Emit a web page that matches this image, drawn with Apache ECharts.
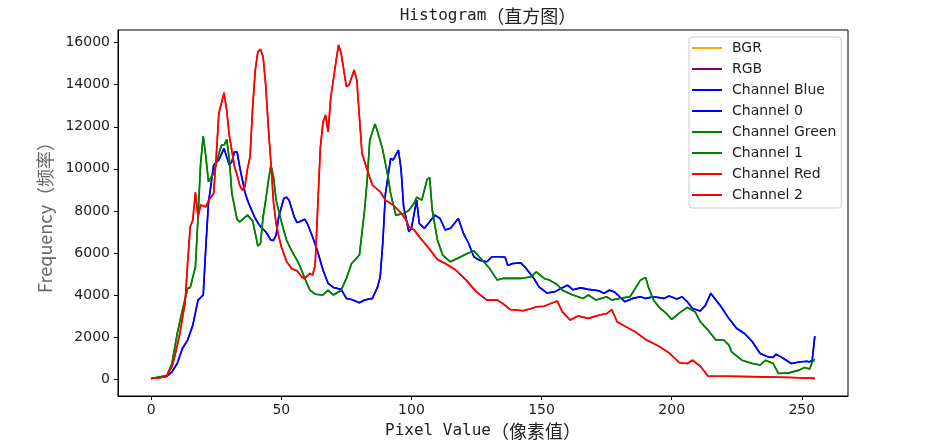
<!DOCTYPE html>
<html><head><meta charset="utf-8">
<script src="https://cdn.jsdelivr.net/npm/echarts@6/dist/echarts.min.js"></script>
<style>html,body{margin:0;padding:0;background:#fff}#c{width:941px;height:447px}</style>
</head><body><div id="c"></div>
<script>
// Tick labels
const xTicks = [0, 50, 100, 150, 200, 250];
const yTicks = [0, 2000, 4000, 6000, 8000, 10000, 12000, 14000, 16000];

// Legend entries (in plotting order)
const seriesNames = ['BGR', 'RGB', 'Channel Blue', 'Channel 0', 'Channel Green', 'Channel 1', 'Channel Red', 'Channel 2'];
const seriesColors = ['#ffa500', '#800080', '#0000ff', '#0000ff', '#008000', '#008000', '#ff0000', '#ff0000'];

// Data: [pixel value, frequency]
const bgrValues = [];
const rgbValues = [];
const blueValues = [[0,30],[6,130],[8,350],[10,745],[12,1460],[14,1860],[16,2570],[18,3760],[20,4000],[21,6290],[22,8360],[24,10180],[26,10420],[28,10970],[29,10580],[30,10180],[31,10340],[32,10810],[33,10800],[34,10100],[36,8900],[37,8510],[38,8200],[40,7640],[42,7250],[44,7010],[46,6610],[47,6600],[48,6850],[49,7720],[51,8600],[52,8650],[53,8510],[55,7700],[56,7450],[57,7480],[59,7600],[60,7400],[62,6770],[64,6060],[66,5190],[68,4550],[70,4360],[73,4270],[75,3840],[77,3790],[80,3630],[82,3760],[85,3840],[87,4390],[88,4870],[89,6500],[90,8800],[92,10500],[93,10420],[95,10890],[96,10000],[97,8200],[99,7010],[100,7170],[102,8510],[103,7400],[105,7170],[107,7480],[109,7800],[111,7640],[113,7090],[115,7170],[118,7640],[120,6930],[122,6450],[124,5820],[126,5660],[129,5580],[131,5820],[134,5820],[136,5800],[137,5420],[139,5500],[142,5530],[144,5270],[147,4800],[149,4390],[152,4100],[155,4150],[158,4350],[160,4470],[162,4250],[165,4340],[168,4270],[172,4200],[174,4080],[176,4230],[178,4150],[180,3920],[182,3680],[185,3840],[188,3920],[190,3840],[193,3920],[197,3840],[199,3950],[202,3810],[204,3920],[206,3680],[208,3360],[211,3240],[213,3520],[215,4080],[217,3760],[219,3440],[222,2880],[225,2410],[228,2170],[231,1780],[234,1220],[237,1060],[239,1030],[240,1190],[242,1060],[244,900],[246,745],[249,820],[252,850],[253,820],[254,900],[255,2050]];
const greenValues = [[0,30],[6,170],[8,745],[10,2170],[12,3280],[14,4310],[15,4360],[17,5340],[18,7720],[19,10260],[20,11560],[21,10580],[22,9390],[24,9780],[25,10260],[27,11130],[28,11130],[29,11400],[30,10500],[31,8830],[33,7600],[34,7480],[37,7800],[39,7520],[41,6330],[42,6450],[43,7720],[44,8500],[45,9400],[46,10180],[47,9620],[48,8510],[50,7500],[52,6610],[54,6100],[56,5660],[57,5420],[59,4800],[61,4230],[63,4040],[66,4000],[68,4230],[70,4000],[73,4230],[75,4790],[77,5500],[80,5900],[82,8040],[83,9470],[84,11370],[86,12130],[87,11760],[89,10890],[91,9620],[92,8830],[94,7800],[97,7880],[99,8020],[101,8360],[102,8650],[104,8510],[106,9500],[107,9580],[108,8040],[110,6610],[112,5900],[115,5580],[119,5820],[121,5950],[124,6100],[126,5820],[130,5270],[133,4710],[135,4790],[139,4790],[142,4790],[146,4870],[148,5100],[151,4790],[153,4710],[156,4500],[158,4230],[162,4000],[166,3840],[168,4000],[171,3760],[175,3920],[177,3760],[180,3840],[184,3920],[186,4310],[188,4710],[190,4840],[191,4390],[193,3760],[195,3440],[198,3120],[200,2840],[203,3150],[206,3410],[209,3200],[211,2730],[214,2330],[217,1860],[220,1860],[222,1620],[223,1300],[227,900],[231,745],[234,670],[236,900],[239,745],[241,270],[245,300],[249,430],[251,560],[253,480],[254,820],[255,940]];
const redValues = [[0,30],[4,80],[6,175],[8,600],[9,1060],[10,1600],[11,2170],[12,2900],[13,3600],[14,5500],[15,7250],[16,7560],[17,8880],[18,7720],[19,8280],[21,8200],[22,8480],[24,8830],[25,10580],[26,12640],[28,13620],[29,12800],[30,11600],[32,10100],[33,9700],[34,9230],[35,8990],[36,9150],[37,10000],[38,10580],[39,12950],[40,14700],[41,15570],[42,15680],[43,15330],[44,14000],[45,12000],[46,10300],[47,8400],[48,7400],[49,6800],[50,6300],[52,5600],[54,5250],[56,5150],[58,4850],[59,4790],[61,5030],[62,4950],[63,5400],[64,8200],[65,11000],[66,12200],[67,12560],[68,11760],[69,13400],[71,15100],[72,15890],[73,15490],[75,13910],[76,13990],[78,14700],[79,14220],[80,12500],[81,10740],[83,9940],[85,9230],[88,8910],[90,8510],[93,8280],[96,7900],[98,7560],[99,7250],[101,7100],[103,6770],[107,6180],[110,5690],[113,5500],[117,5190],[121,4710],[125,4150],[129,3760],[133,3760],[135,3600],[138,3310],[143,3250],[146,3360],[148,3440],[151,3470],[152,3520],[156,3720],[158,3200],[161,2810],[164,3000],[168,2890],[172,3040],[175,3120],[177,3310],[179,2730],[182,2520],[186,2250],[190,1890],[195,1570],[199,1250],[203,780],[206,745],[208,900],[211,620],[214,140],[222,140],[235,110],[246,80],[255,40]];

const seriesData = [bgrValues, rgbValues, blueValues, blueValues, greenValues, greenValues, redValues, redValues];

const monoCjkRich = {
  a: { fontFamily: 'DejaVu Sans Mono', fontSize: 16, fontWeight: 'normal', color: '#222' },
  b: { fontFamily: 'Noto Sans CJK SC', fontSize: 18, fontWeight: 'normal', color: '#222' }
};

const chart = echarts.init(document.getElementById('c'), null, { renderer: 'canvas' });
chart.setOption({
  animation: false,
  backgroundColor: '#fff',
  title: {
    text: '{a|Histogram}{b|（直方图）}',
    left: 483, top: 2, textAlign: 'center',
    textStyle: { fontWeight: 'normal', rich: monoCjkRich }
  },
  grid: { left: 118, right: 93, top: 30, bottom: 51, show: true, borderColor: '#000', borderWidth: 1, containLabel: false },
  legend: {
    orient: 'vertical', left: 689, top: 37,
    padding: [3, 5, 5, 3], itemGap: 5,
    icon: 'rect', itemWidth: 30, itemHeight: 2,
    backgroundColor: 'rgba(255,255,255,0.8)', borderColor: '#cccccc', borderWidth: 1, borderRadius: 3,
    textStyle: { fontFamily: 'DejaVu Sans', fontSize: 14, color: '#222', lineHeight: 16, padding: [0, 0, 0, 5] },
    data: seriesNames
  },
  xAxis: {
    type: 'value', min: -12.75, max: 267.75,
    name: '{a|Pixel Value}{b|（像素值）}', nameLocation: 'middle', nameGap: 26,
    nameTextStyle: { fontWeight: 'normal', rich: monoCjkRich },
    axisLine: { show: true, onZero: false, lineStyle: { color: '#000', width: 1 } },
    axisTick: { show: true, length: 4, lineStyle: { color: '#000' }, customValues: xTicks },
    axisLabel: { fontFamily: 'DejaVu Sans', fontSize: 14, color: '#222', margin: 7, customValues: xTicks, formatter: v => String(v) },
    splitLine: { show: false }
  },
  yAxis: {
    type: 'value', min: -800, max: 16600,
    name: 'Frequency（频率）', nameLocation: 'middle', nameGap: 54,
    nameTextStyle: { fontFamily: 'Noto Sans CJK SC', fontSize: 18, color: '#666' },
    axisLine: { show: true, onZero: false, lineStyle: { color: '#000', width: 1 } },
    axisTick: { show: true, length: 4, lineStyle: { color: '#000' }, customValues: yTicks },
    axisLabel: { fontFamily: 'DejaVu Sans', fontSize: 14, color: '#222', margin: 8, customValues: yTicks, formatter: v => String(v) },
    splitLine: { show: false }
  },
  series: seriesNames.map((n, i) => ({
    name: n, type: 'line', data: seriesData[i],
    showSymbol: false, symbol: 'none', smooth: false,
    color: seriesColors[i],
    lineStyle: { color: seriesColors[i], width: 1.6 },
    itemStyle: { color: seriesColors[i] },
    emphasis: { disabled: true }
  }))
});
</script></body></html>
